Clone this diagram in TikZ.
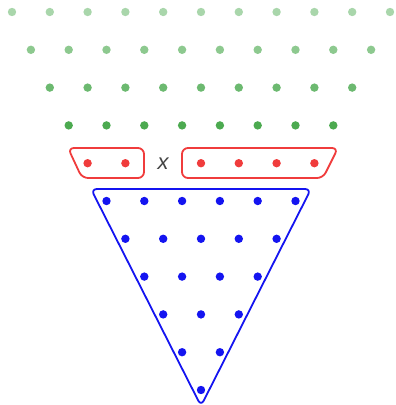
\documentclass[tikz,border=0pt]{standalone}
\usepackage{fontspec}
\setsansfont{Liberation Sans}
\definecolor{leafgreen}{HTML}{4CAA50}
\definecolor{boxred}{HTML}{F03C3C}
\definecolor{deepblue}{HTML}{1414F0}
\definecolor{labelgray}{HTML}{444444}

\begin{document}
\begin{tikzpicture}[x=1pt,y=-1pt,
  dot/.style={circle,fill,inner sep=0pt,minimum size=8.4pt},
  frame/.style={line width=1.8pt,rounded corners=6pt,line join=round}]
\useasboundingbox (0,0) rectangle (396,405);
% green rows, fading upwards
\foreach \r/\op in {0/0.48,1/0.64,2/0.82,3/1}{
  \pgfmathtruncatemacro\n{10-\r}
  \foreach \i in {0,...,\n}
    \node[dot,leafgreen,fill opacity=\op] (g-\r-\i) at ({12+18.9*\r+37.8*\i},{12+37.8*\r}) {};
}
% red row with the gap
\foreach \i in {0,1,3,4,5,6}
  \node[dot,boxred] (r-\i) at ({12+18.9*4+37.8*\i},{12+37.8*4}) {};
\node[text=labelgray,font=\sffamily\itshape\fontsize{22}{22}\selectfont] (x) at ({12+18.9*4+37.8*2},{12+37.8*4}) {x};
% blue triangle
\foreach \r in {5,...,10}{
  \pgfmathtruncatemacro\n{10-\r}
  \foreach \i in {0,...,\n}
    \node[dot,deepblue] (b-\r-\i) at ({12+18.9*\r+37.8*\i},{12+37.8*\r}) {};
}
\draw[frame,boxred] (68,148) -- (144,148) -- (144,178) -- (82,178) -- cycle;
\draw[frame,boxred] (182,148) -- (338,148) -- (323,178) -- (182,178) -- cycle;
\draw[frame,deepblue] (91,189) -- (311,189) -- (201,406) -- cycle;
\end{tikzpicture}
\end{document}
